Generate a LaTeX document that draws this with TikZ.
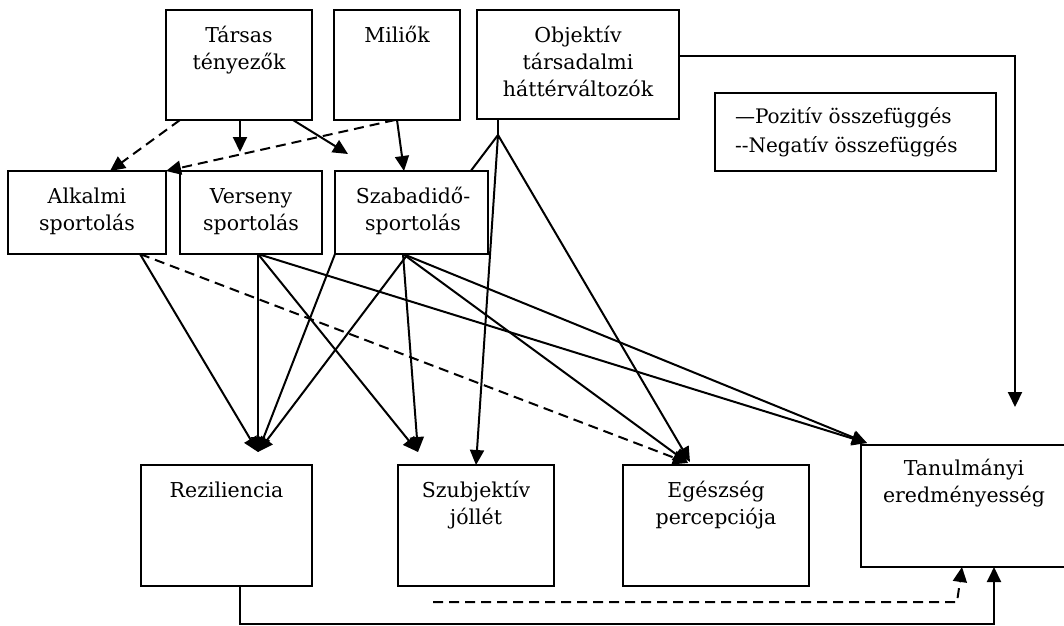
\documentclass[tikz,border=0pt]{standalone}
\usepackage{fontspec}
\setmainfont{DejaVu Serif}
\usetikzlibrary{arrows.meta,calc}
\pgfdeclarelayer{bg}
\pgfsetlayers{bg,main}
\newcommand\myst{\rule{0pt}{19pt}}
\begin{document}
\begin{tikzpicture}[x=1pt,y=-1pt,
  box/.style={draw,fill=white,line width=2pt,inner sep=0pt,outer sep=0pt},
  txt/.style={anchor=north,align=center,inner sep=0pt,outer sep=0pt,font=\fontsize{20.5}{27}\selectfont},
  conn/.style={line width=2pt,-{Triangle[length=15pt,width=14pt]}},
  neg/.style={conn,dash pattern=on 10pt off 6pt},
  plain/.style={line width=2pt}]
\clip (0,0) rectangle (1064,625);
% top row
\node[box,minimum width=146pt,minimum height=110pt] (tars) at (239,65) {};
\node[txt] (tarsT) at (239,23) {\myst Társas\\tényezők};
\node[box,minimum width=126pt,minimum height=110pt] (mil) at (397,65) {};
\node[txt] (milT) at (397,23) {\myst Miliők};
\node[box,minimum width=202pt,minimum height=109pt] (obj) at (578,64.5) {};
\node[txt] (objT) at (578,23) {\myst Objektív\\társadalmi\\háttérváltozók};
\node[box,minimum width=281pt,minimum height=78pt] (leg) at (855.5,132) {};
\node[txt,anchor=north west,align=left,font=\fontsize{20}{29}\selectfont] (legT) at (735,104) {\myst —Pozitív összefüggés\\-{}-Negatív összefüggés};
% middle row
\node[box,minimum width=158pt,minimum height=83pt] (alk) at (87,212.5) {};
\node[txt] (alkT) at (87,184) {\myst Alkalmi\\sportolás};
\node[box,minimum width=142pt,minimum height=83pt] (ver) at (251,212.5) {};
\node[txt] (verT) at (251,184) {\myst Verseny\\sportolás};
\node[box,minimum width=153pt,minimum height=83pt] (sza) at (411.5,212.5) {};
\node[txt] (szaT) at (413,184) {\myst Szabadidő-\\sportolás};
% bottom row
\node[box,minimum width=171pt,minimum height=121pt] (rez) at (226.5,525.5) {};
\node[txt] (rezT) at (226.5,478) {\myst Reziliencia};
\node[box,minimum width=156pt,minimum height=121pt] (szu) at (476,525.5) {};
\node[txt] (szuT) at (476,478) {\myst Szubjektív\\jóllét};
\node[box,minimum width=186pt,minimum height=121pt] (ege) at (716,525.5) {};
\node[txt] (egeT) at (716,478) {\myst Egészség\\percepciója};
\node[box,minimum width=206pt,minimum height=122pt] (tan) at (964,506) {};
\node[txt] (tanT) at (964,456) {\myst Tanulmányi\\eredményesség};
% free ends of connectors
\coordinate (apex) at (498,135);
\coordinate (verIn) at (240,152);
\coordinate (szaIn) at (348,154);
\coordinate (rezIn) at (258,452);
\coordinate (szuIn) at (418,452);
\coordinate (egeIn) at (688,463);
\coordinate (egeIn2) at (690,462);
\coordinate (tanIn) at (867,443);
\coordinate (tanTop) at (1015,407);
\coordinate (dashS) at (433,602);
\coordinate (dashM) at (957,602);
\coordinate (alkOut) at ([xshift=53pt]alk.south);
\coordinate (verOut) at ([xshift=7pt]ver.south);
\coordinate (szaOut) at ([xshift=-8.5pt]sza.south);
% line hidden behind Szabadido box
\begin{pgfonlayer}{bg}
\draw[conn] (apex) -- (rezIn);
\end{pgfonlayer}
% top connectors
\draw[neg] ([xshift=14pt]tars.south west) -- ([xshift=23pt]alk.north);
\draw[conn] ([xshift=1pt]tars.south) -- (verIn);
\draw[conn] ([xshift=54pt]tars.south) -- (szaIn);
\draw[conn] (mil.south) -- ([xshift=-7.5pt]sza.north);
\draw[neg] ([xshift=-2pt]mil.south) -- (alk.north east);
\draw[plain] ([xshift=-80pt]obj.south) -- (apex);
\draw[conn] (apex) -- (szu.north);
\draw[conn] (apex) -- (egeIn2);
\draw[conn] ([yshift=8.5pt]obj.east) -| (tanTop);
% lower connectors
\draw[conn] (alkOut) -- (rezIn);
\draw[neg] (alkOut) -- (egeIn);
\draw[conn] (verOut) -- (rezIn);
\draw[conn] (verOut) -- (szuIn);
\draw[conn] (verOut) -- (tanIn);
\draw[conn] (sza.south west) -- (rezIn);
\draw[conn] (szaOut) -- (szuIn);
\draw[conn] (szaOut) -- (egeIn);
\draw[conn] (szaOut) -- (tanIn);
% bottom feedback
\draw[conn] ([xshift=13.5pt]rez.south) -- ++(0,38) -| ([xshift=30pt]tan.south);
\draw[neg] (dashS) -- (dashM) -- ([xshift=-2pt]tan.south);
\end{tikzpicture}
\end{document}
